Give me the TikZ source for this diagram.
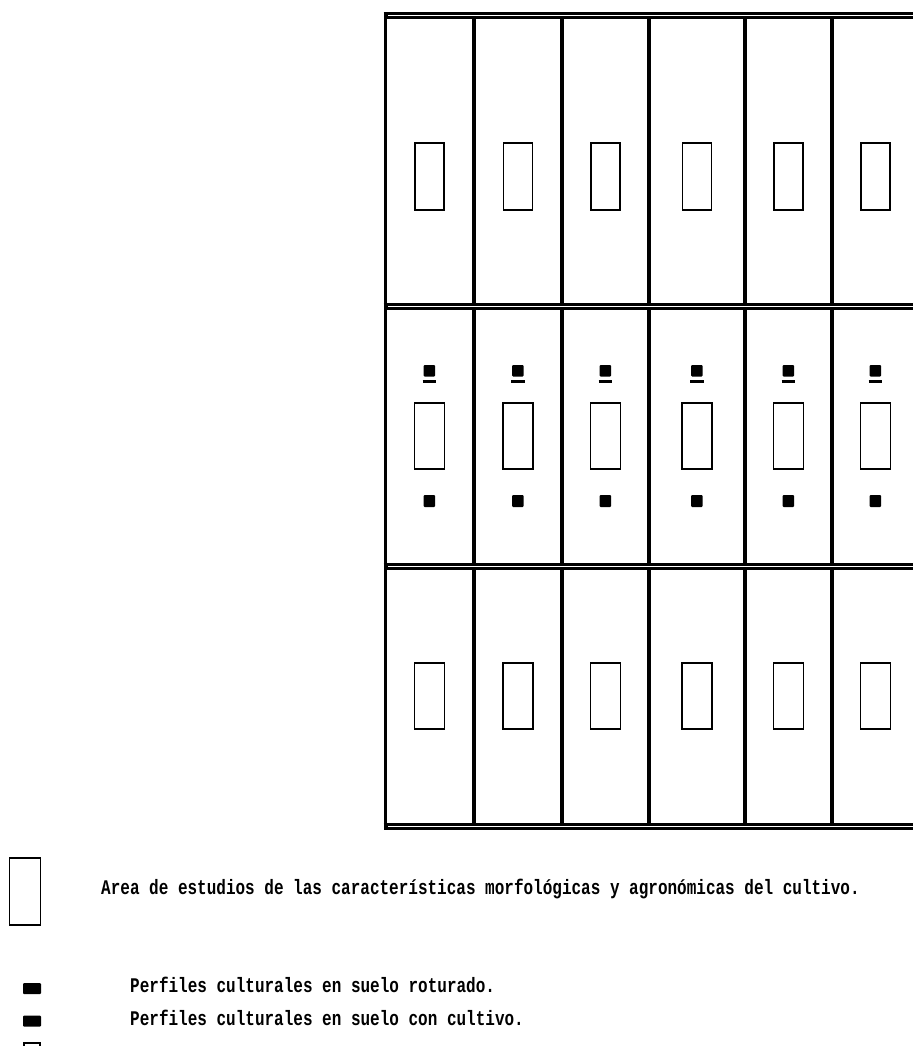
\documentclass[tikz,border=0pt]{standalone}
\usepackage{fontspec}
\setmonofont{Liberation Mono}
\begin{document}
\begin{tikzpicture}[x=1pt,y=-1pt,
  band/.style={line width=7pt,draw=black},
  bandgap/.style={line width=1pt,draw=white},
  wall/.style={line width=3.8pt,draw=black},
  plot/.style={line width=1.9pt,draw=black},
  profile/.style={fill=black,rounded corners=1pt},
  dashmark/.style={line width=2.4pt,draw=black},
  legtext/.style={anchor=base west,inner sep=0pt,font=\ttfamily\bfseries\fontsize{16}{18}\selectfont}]
\useasboundingbox (0,0) rectangle (913,1046);
\fill[white] (0,0) rectangle (913,1046);
% vertical walls
\foreach \x/\n in {385.5/v0,474/v1,562/v2,649/v3,745/v4,832/v5}{
  \coordinate (\n t) at (\x,15.5);
  \coordinate (\n b) at (\x,826.5);
  \draw[wall] (\n t) -- (\n b);
}
% horizontal double bands
\foreach \y/\n in {15.5/h0,306.5/h1,566.5/h2,826.5/h3}{
  \coordinate (\n l) at (383.6,\y);
  \coordinate (\n r) at (913,\y);
  \draw[band] (\n l) -- (\n r);
}
\foreach \y/\n in {15.5/h0,306.5/h1,566.5/h2,826.5/h3}{
  \draw[bandgap] (388,\y) -- (913,\y);
}
% plots and profiles
\foreach \c [count=\i] in {429.5,518,605.5,697,788.5,875.5}{
  \node[plot,draw,minimum width=29pt,minimum height=67pt,inner sep=0pt] (top\i) at (\c,176.5) {};
  \node[plot,draw,minimum width=30pt,minimum height=66pt,inner sep=0pt] (mid\i) at (\c,436) {};
  \node[plot,draw,minimum width=30pt,minimum height=66pt,inner sep=0pt] (bot\i) at (\c,696) {};
  \fill[profile] (\c-6,365) rectangle (\c+5.5,376.5);
  \coordinate (dl\i) at (\c-7,381.5);
  \coordinate (dr\i) at (\c+6.5,381.5);
  \draw[dashmark] (dl\i) -- (dr\i);
  \fill[profile] (\c-6,495) rectangle (\c+5.5,507);
}
% legend
\node[plot,draw,minimum width=31pt,minimum height=67pt,inner sep=0pt] (legplot) at (25,891.5) {};
\node[legtext] (legA) at (101,894) {\scalebox{1}[1.3]{Area de estudios de las características morfológicas y agronómicas del cultivo.}};
\fill[profile] (23,983) rectangle (41,994);
\node[legtext] (legB) at (130,992) {\scalebox{1}[1.3]{Perfiles culturales en suelo roturado.}};
\fill[profile] (23,1015.5) rectangle (41,1026.5);
\node[legtext] (legC) at (130,1025) {\scalebox{1}[1.3]{Perfiles culturales en suelo con cultivo.}};
\begin{scope}
\clip (0,0) rectangle (913,1046);
\draw[line width=1.5pt] (24,1052) -- (24,1043) -- (40,1043) -- (40,1052);
\end{scope}
\end{tikzpicture}
\end{document}
